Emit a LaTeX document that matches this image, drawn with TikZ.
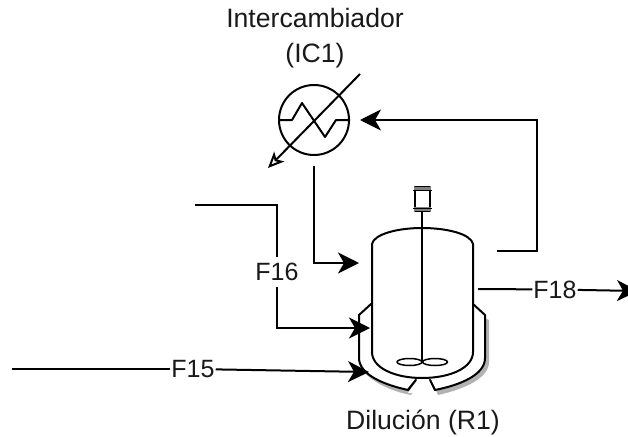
\documentclass[tikz,border=0pt]{standalone}
\usepackage{fontspec}
\setmainfont{Liberation Sans}
\usetikzlibrary{arrows.meta}
\tikzset{
  equip/.style={draw=black,line width=2pt,line join=round},
  flow/.style={draw=black,line width=2pt,-{Stealth[length=21pt,width=21pt,inset=6pt]}},
  plain/.style={draw=black,line width=2pt},
  lbl/.style={font=\fontsize{26.6}{30}\selectfont,inner sep=1pt,text=black!90,anchor=base},
  streamlbl/.style={font=\fontsize{25}{30}\selectfont,text=black!90,fill=white,inner xsep=1pt,inner ysep=6pt},
}
\begin{document}
\begin{tikzpicture}[x=1pt,y=-1pt]
\useasboundingbox (0,0) rectangle (628,436);
% jacket shadow
\fill[black!30] (489,320) -- (489,362) .. controls (489,378) and (465,389) .. (438,395) -- (433,384) -- (485,360) -- (485,318) -- cycle;
\fill[black!30] (362,370) .. controls (375,385) and (395,392) .. (411,395) -- (420,384) -- (410,388) -- cycle;
% jacket
\path[equip,fill=white] (371,304) -- (359,315) -- (359,358) .. controls (359,375) and (385,385) .. (408,390) -- (416,380) -- (430,380) -- (435,390) .. controls (460,385) and (485,375) .. (485,358) -- (485,315) -- (473,304) -- cycle;
\path[fill=white] (417,379) -- (429,379) -- (435,393) -- (408,393) -- cycle;
\draw[equip] (408,390) -- (416,380);
\draw[equip] (430,380) -- (435,390);
% vessel
\path[equip,fill=white] (372,244) .. controls (374,234) and (398,228) .. (422,228) .. controls (447,228) and (471,234) .. (473,244) -- (473,352) .. controls (473,368) and (450,378) .. (422,378) .. controls (395,378) and (372,368) .. (372,352) -- cycle;
% agitator
\draw[equip] (422,211) -- (422,362);
\draw[equip,line width=1.5pt] (409.5,362) ellipse [x radius=12.5,y radius=3.5];
\draw[equip,line width=1.5pt] (435,362) ellipse [x radius=12.5,y radius=3.5];
\draw[equip,fill=white] (415,187) rectangle (430,211);
\fill[black!50] (414,187) rectangle (431,191);
\fill[black!50] (414,207) rectangle (431,211);
\draw[line width=1pt] (413,190) -- (432,190) (413,208) -- (432,208);
% heat exchanger
\node[circle,draw=black,line width=2pt,minimum size=70pt,inner sep=0pt] (ic1) at (314,120) {};
\draw[equip] (ic1.west) -- (292,120) -- (302,103) -- (325,137) -- (336,120) -- (ic1.east);
\coordinate (hxa) at (360,74);
\coordinate (hxb) at (268,168);
\draw[draw=black,line width=2pt,-{Stealth[open,length=16pt,width=14pt,inset=4pt,line width=2pt]}] (hxa) -- (hxb);
% labels
\node[lbl] (t1) at (315,28) {Intercambiador};
\node[lbl] (t2) at (315,63) {(IC1)};
\node[lbl] (t3) at (423,429) {Dilución (R1)};
% stream points
\coordinate (a1) at (314,166);
\coordinate (a2) at (359,263);
\coordinate (b1) at (497,251);
\coordinate (b2) at (360,120);
\coordinate (c1) at (195,205);
\coordinate (c2) at (370,328);
\coordinate (d1) at (12,369);
\coordinate (d2) at (369,372);
\coordinate (e1) at (478,289);
\coordinate (e2) at (638,291);
\draw[flow] (a1) |- (a2);
\draw[flow] (b1) -- (537,251) -- (537,120) -- (b2);
\node[streamlbl] (f16) at (277,272) {F16};
\draw[plain] (c1) -- (277,205) -- (f16);
\draw[flow] (f16) |- (c2);
\node[streamlbl] (f15) at (193,369) {F15};
\draw[plain] (d1) -- (f15);
\draw[flow] (f15) -- (d2);
\node[streamlbl] (f18) at (555,289.5) {F18};
\draw[plain] (e1) -- (f18);
\draw[flow] (f18) -- (e2);
\end{tikzpicture}
\end{document}
